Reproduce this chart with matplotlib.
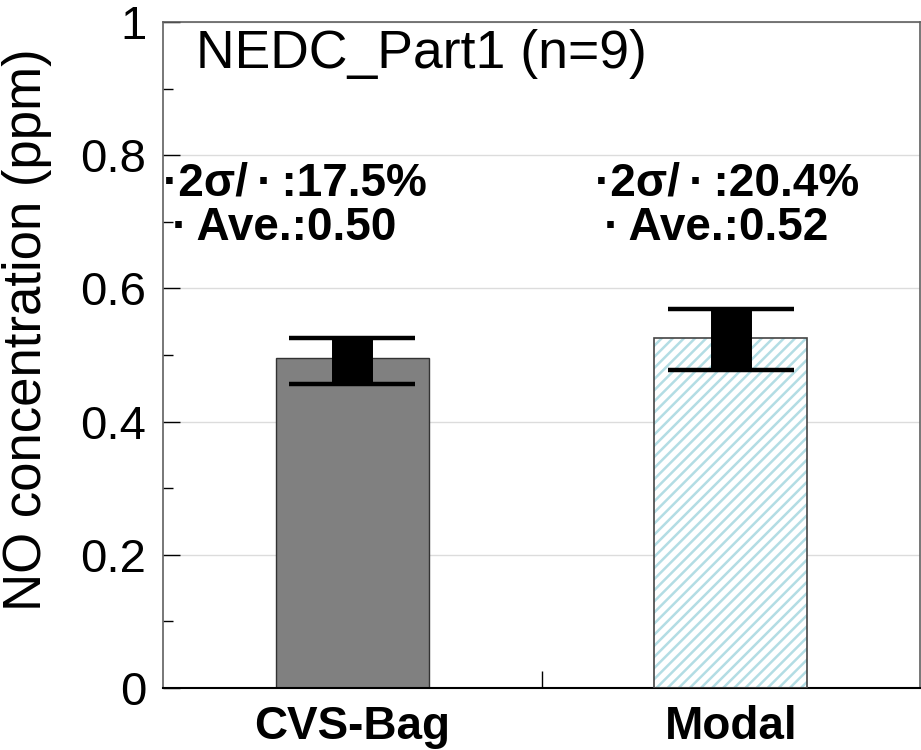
import numpy as np
import matplotlib
matplotlib.use("Agg")
import matplotlib.pyplot as plt

plt.rcParams['font.family'] = ['Liberation Sans', 'DejaVu Sans']
plt.rcParams['hatch.linewidth'] = 1.8

# data
categories = ["CVS-Bag", "Modal"]
means = [0.495, 0.525]
err_low = [0.038, 0.047]
err_high = [0.030, 0.044]
cv_text = ["·2σ/\u2009·\u2009:17.5%", "·2σ/\u2009·\u2009:20.4%"]
ave_text = ["\u2009·\u2009Ave.:0.50", "\u2009·\u2009Ave.:0.52"]
title = "NEDC_Part1 (n=9)"

fig = plt.figure(figsize=(9.21, 7.5), dpi=100)
ax = fig.add_axes([0.177, 0.0827, 0.822, 0.888])

x = np.arange(len(categories))
w = 0.405

# CVS-Bag: solid gray
ax.bar(x[0], means[0], w, color='#808080', edgecolor='#333333', linewidth=1.0, zorder=2)
# Modal: light blue hatch on white, dark outline
ax.bar(x[1], means[1], w, color='white', edgecolor='#b3dde4', hatch='///', linewidth=0, zorder=2)
ax.bar(x[1], means[1], w, color='none', edgecolor='#444444', linewidth=1.2, zorder=3)

eb = ax.errorbar(x, means, yerr=[err_low, err_high], fmt='none', ecolor='black',
                 elinewidth=29.5, capsize=45.5, capthick=3.2, zorder=4)
for lc in eb[2]:
    lc.set_capstyle('butt')

ax.set_xlim(-0.5, 1.5)
ax.set_ylim(0, 1)

ax.set_yticks([0, 0.2, 0.4, 0.6, 0.8, 1.0])
ax.set_yticklabels(["0", "0.2", "0.4", "0.6", "0.8", "1"])
ax.set_yticks([0.1, 0.3, 0.5, 0.7, 0.9], minor=True)
ax.tick_params(axis='y', which='major', direction='in', length=12, width=1,
               labelsize=34, pad=12)
ax.tick_params(axis='y', which='minor', direction='in', length=7, width=1)

ax.set_xticks(x)
ax.set_xticklabels(categories, fontsize=33, fontweight='bold')
ax.set_xticks([0.5], minor=True)
ax.tick_params(axis='x', which='major', length=0, pad=12)
ax.tick_params(axis='x', which='minor', direction='in', length=12, width=1)

ax.grid(axis='y', which='major', color='#dcdcdc', linewidth=1.0, zorder=0)
ax.set_axisbelow(True)

for side in ['left', 'top', 'right']:
    ax.spines[side].set_color('#606060')
    ax.spines[side].set_linewidth(1.2)
ax.spines['bottom'].set_color('black')
ax.spines['bottom'].set_linewidth(1.5)

ax.set_ylabel("NO concentration (ppm)", fontsize=38)
ax.yaxis.set_label_coords(-0.146, 0.538)

ax.text(-0.413, 0.952, title, fontsize=38.5, va='center', ha='left')

text_x = [-0.5, 0.64]
for i in range(len(categories)):
    ax.text(text_x[i], 0.757, cv_text[i], fontsize=33, fontweight='bold', va='center', ha='left')
    ax.text(text_x[i], 0.690, ave_text[i], fontsize=33, fontweight='bold', va='center', ha='left')

fig.savefig("out.png", dpi=100)
